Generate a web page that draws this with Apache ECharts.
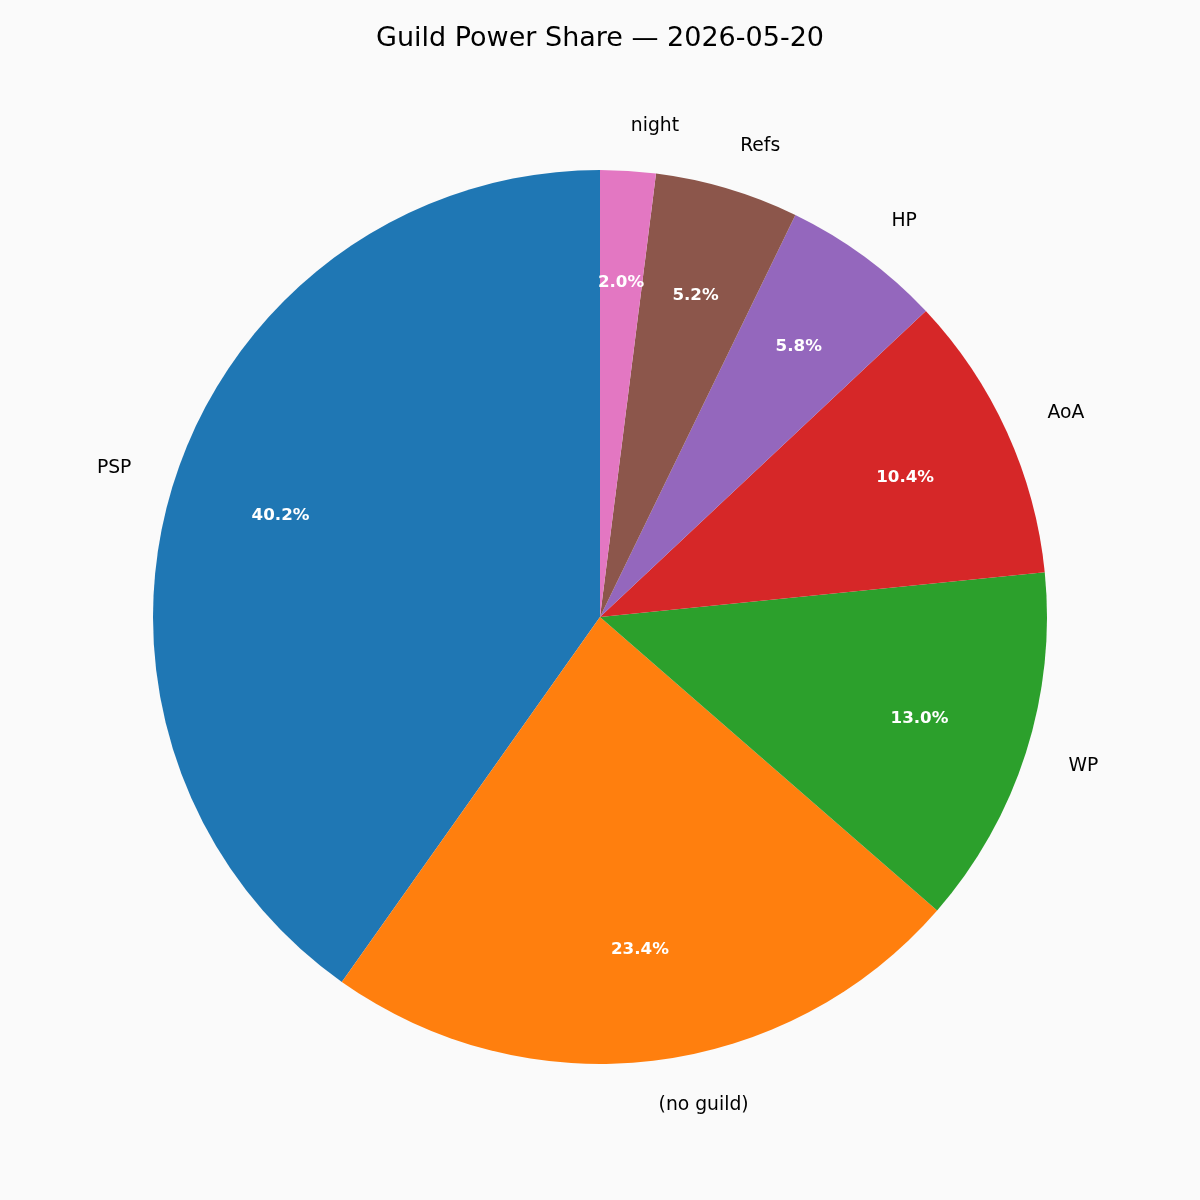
<!DOCTYPE html>
<html>
<head>
<meta charset="utf-8">
<script src="https://cdn.jsdelivr.net/npm/echarts@6/dist/echarts.min.js"></script>
<style>
html,body{margin:0;padding:0;background:#fafafa;}
#chart{width:1200px;height:1200px;}
</style>
</head>
<body>
<div id="chart"></div>
<script>
const categories = ['PSP', '(no guild)', 'WP', 'AoA', 'HP', 'Refs', 'night'];
const shares = [40.2, 23.4, 13.0, 10.4, 5.8, 5.2, 2.0];
const colors = ['#1f77b4', '#ff7f0e', '#2ca02c', '#d62728', '#9467bd', '#8c564b', '#e377c2'];
const titleText = 'Guild Power Share \u2014 2026-05-20';

const R = 447;
const center = [600, 617];
const font = 'DejaVu Sans';

const mainData = categories.map((c, i) => ({ name: c, value: shares[i], itemStyle: { color: colors[i] } }));
const pctData = categories.map((c, i) => ({ name: c, value: shares[i] }));

const chart = echarts.init(document.getElementById('chart'), null, { renderer: 'canvas' });
chart.setOption({
  backgroundColor: '#fafafa',
  animation: false,
  title: {
    text: titleText,
    left: 'center',
    top: 25,
    padding: 0,
    textStyle: { fontFamily: font, fontSize: 27, fontWeight: 'normal', color: '#000' }
  },
  series: [
    {
      type: 'pie',
      center: center,
      radius: [0, R],
      startAngle: 90,
      clockwise: false,
      avoidLabelOverlap: false,
      silent: true,
      emphasis: { disabled: true },
      itemStyle: { borderWidth: 0 },
      label: {
        show: true,
        position: 'outside',
        alignTo: 'none',
        distanceToLabelLine: 0,
        formatter: '{b}',
        fontFamily: font,
        fontSize: 18.75,
        color: '#000'
      },
      labelLine: { show: false, length: R * 0.1, length2: 0 },
      data: mainData
    },
    {
      type: 'pie',
      center: center,
      radius: [0, R * 1.5 - 6],
      startAngle: 90,
      clockwise: false,
      avoidLabelOverlap: false,
      silent: true,
      emphasis: { disabled: true },
      itemStyle: { color: 'rgba(0,0,0,0)', borderWidth: 0 },
      label: {
        show: true,
        position: 'inside',
        formatter: (p) => p.value.toFixed(1) + '%',
        fontFamily: font,
        fontSize: 16.7,
        fontWeight: 'bold',
        color: '#fff'
      },
      labelLine: { show: false },
      data: pctData
    }
  ]
});
</script>
</body>
</html>
